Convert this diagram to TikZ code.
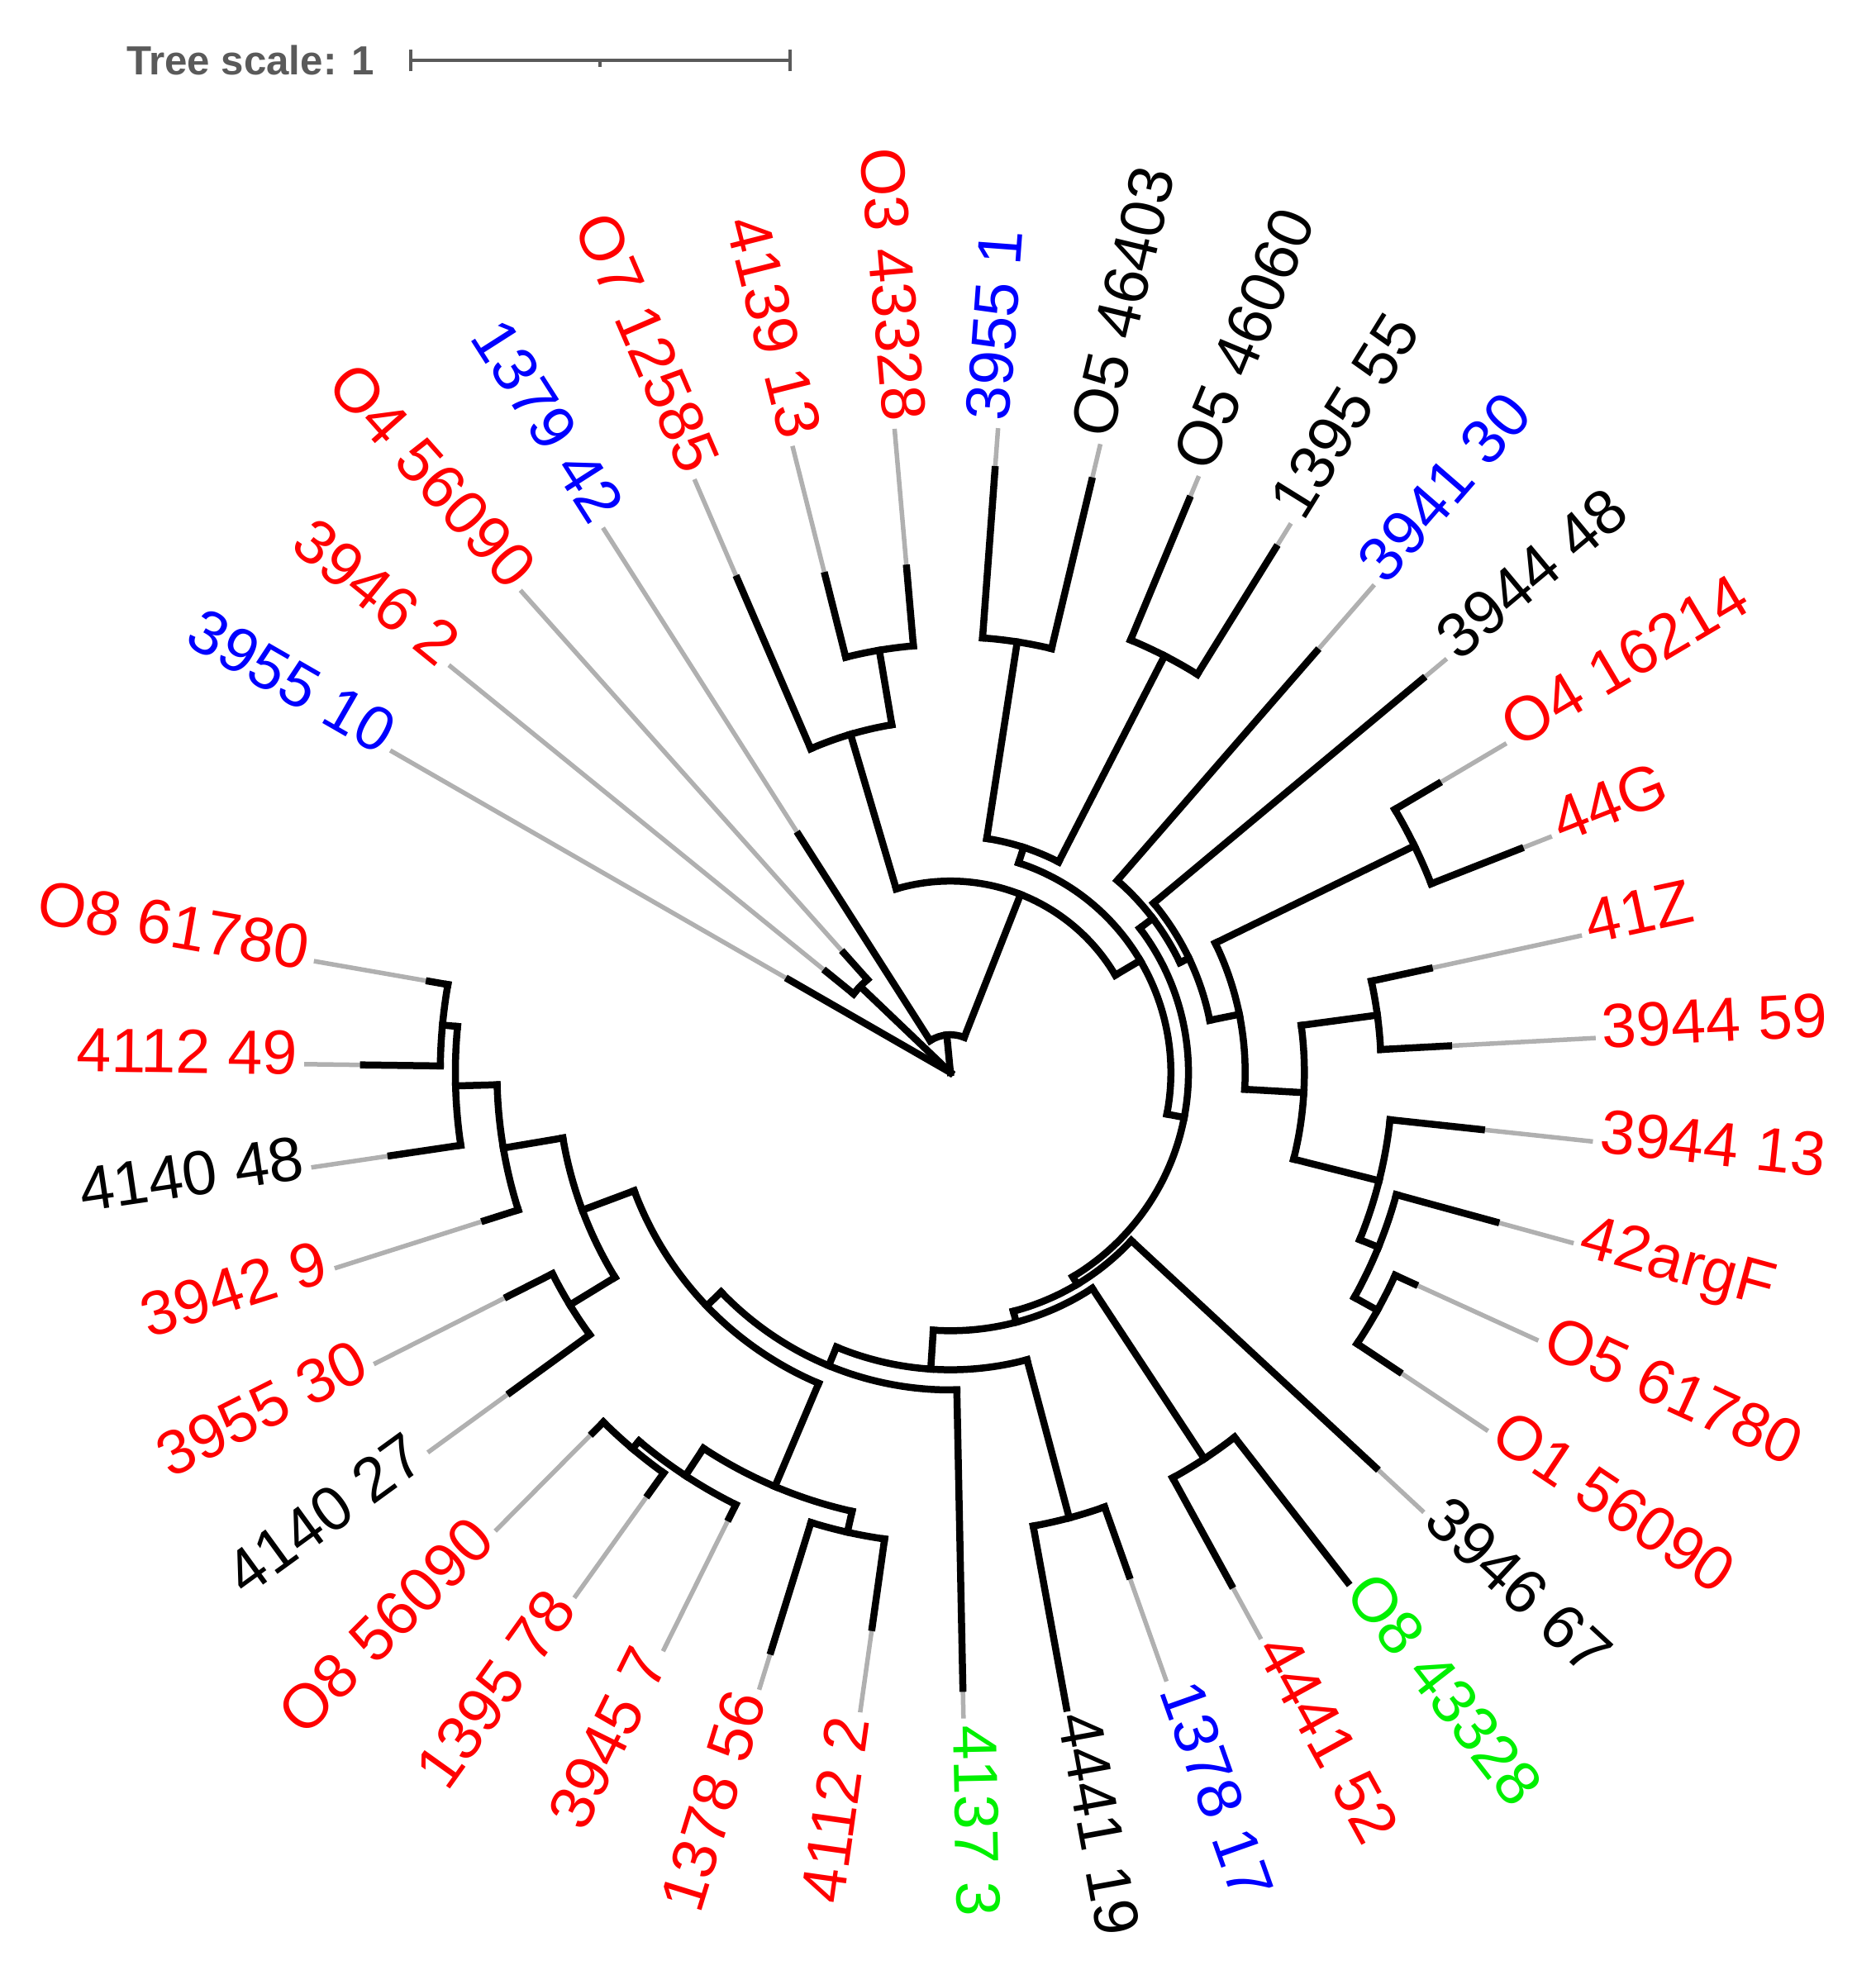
\documentclass[tikz,border=0pt]{standalone}
\usepackage{fontspec}
\setmainfont{Liberation Sans}
\definecolor{guidegray}{RGB}{176,176,176}
\definecolor{scalegray}{RGB}{90,90,90}
\definecolor{tred}{RGB}{255,0,0}
\definecolor{tblue}{RGB}{0,0,255}
\definecolor{tgreen}{RGB}{0,240,0}
\newcommand{\upx}{0.15245mm}
\newcommand{\radline}[3]{\draw[branch] (#1:#2) -- (#1:#3);}
\newcommand{\cladearc}[3]{\draw[branch] (#1:#3) arc[start angle=#1, end angle=#2, radius=#3*\upx];}
\newcommand{\leafline}[3]{\draw[guide] (#1:#3) -- (#1:513); \draw[branch] (#1:#2) -- (#1:#3);}
\begin{document}
\begin{tikzpicture}[x=0.15245mm, y=0.15245mm,
  branch/.style={line width=0.85mm, line cap=rect},
  guide/.style={guidegray, line width=0.55mm},
  lbl/.style={font=\fontsize{21.5}{24}\selectfont, inner sep=0pt, text height=0.72em, text depth=0pt},
  lblr/.style={lbl, anchor=west},
  lbll/.style={lbl, anchor=east},
  scalebar/.style={scalegray, line width=0.4mm}]
\useasboundingbox (-754.5,-716.5) rectangle (734.5,851.5);

\node[anchor=west, inner sep=0pt, text=scalegray, font=\bfseries\fontsize{14}{16}\selectfont] (scaletext) at (-654.5,803.5) {Tree scale: 1};
\coordinate (sb0) at (-428.5,803.5);
\coordinate (sb1) at (-127.5,803.5);
\coordinate (sbm) at (-278,803.5);
\draw[scalebar] (sb0) -- (sb1);
\draw[scalebar] ([yshift=-1.3mm]sb0) -- ([yshift=1.3mm]sb0);
\draw[scalebar] ([yshift=-1.3mm]sb1) -- ([yshift=1.3mm]sb1);
\draw[scalebar] (sbm) -- ([yshift=-0.8mm]sbm);

\leafline{150.10}{0}{148}
\leafline{140.91}{99}{127}
\leafline{131.72}{99}{127}
\leafline{122.53}{30}{224}
\leafline{113.34}{280}{427}
\leafline{104.15}{340}{407}
\leafline{94.96}{340}{402}
\leafline{85.77}{346}{480}
\leafline{76.58}{346}{483}
\leafline{67.39}{372}{493}
\leafline{58.20}{372}{490}
\leafline{49.01}{202}{443}
\leafline{39.82}{210}{488}
\leafline{30.63}{410}{450}
\leafline{21.44}{410}{486}
\leafline{12.25}{342}{389}
\leafline{3.06}{342}{396}
\leafline{-6.13}{351}{424}
\leafline{-15.32}{367}{449}
\leafline{-24.51}{388}{405}
\leafline{-33.70}{388}{428}
\leafline{-42.89}{196}{461}
\radline{-52.08}{367}{513}
\leafline{-61.27}{367}{464}
\leafline{-70.46}{366}{424}
\radline{-79.65}{366}{513}
\leafline{-88.84}{252}{489}
\leafline{-98.03}{374}{445}
\leafline{-107.22}{374}{481}
\leafline{-116.41}{383}{395}
\leafline{-125.60}{391}{412}
\leafline{-134.79}{391}{403}
\leafline{-143.98}{354}{432}
\leafline{-153.17}{354}{394}
\leafline{-162.36}{360}{388}
\leafline{-171.55}{393}{449}
\leafline{-180.74}{405}{466}
\leafline{-189.93}{405}{420}

\radline{136.32}{0}{99}
\cladearc{140.91}{131.72}{99}
\radline{95.52}{0}{30}
\cladearc{122.53}{68.51}{30}
\radline{68.51}{30}{152}
\cladearc{106.45}{30.56}{152}
\radline{106.45}{152}{280}
\cladearc{113.34}{99.56}{280}
\radline{99.56}{280}{340}
\cladearc{104.15}{94.96}{340}
\radline{30.56}{152}{175}
\cladearc{71.99}{-10.88}{175}
\radline{71.99}{175}{188}
\cladearc{81.18}{62.80}{188}
\radline{81.18}{188}{346}
\cladearc{85.77}{76.58}{346}
\radline{62.80}{188}{372}
\cladearc{67.39}{58.20}{372}
\radline{-10.88}{175}{189}
\cladearc{37.31}{-59.07}{189}
\radline{37.31}{189}{202}
\cladearc{49.01}{25.61}{202}
\radline{25.61}{202}{210}
\cladearc{39.82}{11.39}{210}
\radline{11.39}{210}{234}
\cladearc{26.04}{-3.26}{234}
\radline{26.04}{234}{410}
\cladearc{30.63}{21.44}{410}
\radline{-3.26}{234}{281}
\cladearc{7.66}{-14.17}{281}
\radline{7.66}{281}{342}
\cladearc{12.25}{3.06}{342}
\radline{-14.17}{281}{351}
\cladearc{-6.13}{-22.21}{351}
\radline{-22.21}{351}{367}
\cladearc{-15.32}{-29.11}{367}
\radline{-29.11}{367}{388}
\cladearc{-24.51}{-33.70}{388}
\radline{-59.07}{189}{196}
\cladearc{-42.89}{-75.24}{196}
\radline{-75.24}{196}{205}
\cladearc{-56.68}{-93.80}{205}
\radline{-56.68}{205}{367}
\cladearc{-52.08}{-61.27}{367}
\radline{-93.80}{205}{236}
\cladearc{-75.06}{-112.54}{236}
\radline{-75.06}{236}{366}
\cladearc{-70.46}{-79.65}{366}
\radline{-112.54}{236}{252}
\cladearc{-88.84}{-136.24}{252}
\radline{-136.24}{252}{268}
\cladearc{-112.97}{-159.50}{268}
\radline{-112.97}{268}{357}
\cladearc{-102.63}{-123.31}{357}
\radline{-102.63}{357}{374}
\cladearc{-98.03}{-107.22}{374}
\radline{-123.31}{357}{383}
\cladearc{-116.41}{-130.20}{383}
\radline{-130.20}{383}{391}
\cladearc{-125.60}{-134.79}{391}
\radline{-159.50}{268}{312}
\cladearc{-148.58}{-170.41}{312}
\radline{-148.58}{312}{354}
\cladearc{-143.98}{-153.17}{354}
\radline{-170.41}{312}{360}
\cladearc{-162.36}{-178.45}{360}
\radline{-178.45}{360}{393}
\cladearc{-171.55}{-185.34}{393}
\radline{-185.34}{393}{405}
\cladearc{-180.74}{-189.93}{405}

\node[lbll, text=tblue, rotate=-29.90] (leaf1) at (150.10:518) {3955 10};
\node[lbll, text=tred, rotate=-39.09] (leaf2) at (140.91:518) {3946 2};
\node[lbll, text=tred, rotate=-48.28] (leaf3) at (131.72:518) {O4 56090};
\node[lbll, text=tblue, rotate=-57.47] (leaf4) at (122.53:518) {1379 42};
\node[lbll, text=tred, rotate=-66.66] (leaf5) at (113.34:518) {O7 12585};
\node[lbll, text=tred, rotate=-75.85] (leaf6) at (104.15:518) {4139 13};
\node[lbll, text=tred, rotate=-85.04] (leaf7) at (94.96:518) {O3 43328};
\node[lblr, text=tblue, rotate=85.77] (leaf8) at (85.77:518) {3955 1};
\node[lblr, text=black, rotate=76.58] (leaf9) at (76.58:518) {O5 46403};
\node[lblr, text=black, rotate=67.39] (leaf10) at (67.39:518) {O5 46060};
\node[lblr, text=black, rotate=58.20] (leaf11) at (58.20:518) {1395 55};
\node[lblr, text=tblue, rotate=49.01] (leaf12) at (49.01:518) {3941 30};
\node[lblr, text=black, rotate=39.82] (leaf13) at (39.82:518) {3944 48};
\node[lblr, text=tred, rotate=30.63] (leaf14) at (30.63:518) {O4 16214};
\node[lblr, text=tred, rotate=21.44] (leaf15) at (21.44:518) {44G};
\node[lblr, text=tred, rotate=12.25] (leaf16) at (12.25:518) {41Z};
\node[lblr, text=tred, rotate=3.06] (leaf17) at (3.06:518) {3944 59};
\node[lblr, text=tred, rotate=-6.13] (leaf18) at (-6.13:518) {3944 13};
\node[lblr, text=tred, rotate=-15.32] (leaf19) at (-15.32:518) {42argF};
\node[lblr, text=tred, rotate=-24.51] (leaf20) at (-24.51:518) {O5 61780};
\node[lblr, text=tred, rotate=-33.70] (leaf21) at (-33.70:518) {O1 56090};
\node[lblr, text=black, rotate=-42.89] (leaf22) at (-42.89:518) {3946 67};
\node[lblr, text=tgreen, rotate=-52.08] (leaf23) at (-52.08:518) {O8 43328};
\node[lblr, text=tred, rotate=-61.27] (leaf24) at (-61.27:518) {4441 52};
\node[lblr, text=tblue, rotate=-70.46] (leaf25) at (-70.46:518) {1378 17};
\node[lblr, text=black, rotate=-79.65] (leaf26) at (-79.65:518) {4441 19};
\node[lblr, text=tgreen, rotate=-88.84] (leaf27) at (-88.84:518) {4137 3};
\node[lbll, text=tred, rotate=81.97] (leaf28) at (-98.03:518) {4112 2};
\node[lbll, text=tred, rotate=72.78] (leaf29) at (-107.22:518) {1378 56};
\node[lbll, text=tred, rotate=63.59] (leaf30) at (-116.41:518) {3945 7};
\node[lbll, text=tred, rotate=54.40] (leaf31) at (-125.60:518) {1395 78};
\node[lbll, text=tred, rotate=45.21] (leaf32) at (-134.79:518) {O8 56090};
\node[lbll, text=black, rotate=36.02] (leaf33) at (-143.98:518) {4140 27};
\node[lbll, text=tred, rotate=26.83] (leaf34) at (-153.17:518) {3955 30};
\node[lbll, text=tred, rotate=17.64] (leaf35) at (-162.36:518) {3942 9};
\node[lbll, text=black, rotate=8.45] (leaf36) at (-171.55:518) {4140 48};
\node[lbll, text=tred, rotate=-0.74] (leaf37) at (-180.74:518) {4112 49};
\node[lbll, text=tred, rotate=-9.93] (leaf38) at (-189.93:518) {O8 61780};
\end{tikzpicture}
\end{document}
